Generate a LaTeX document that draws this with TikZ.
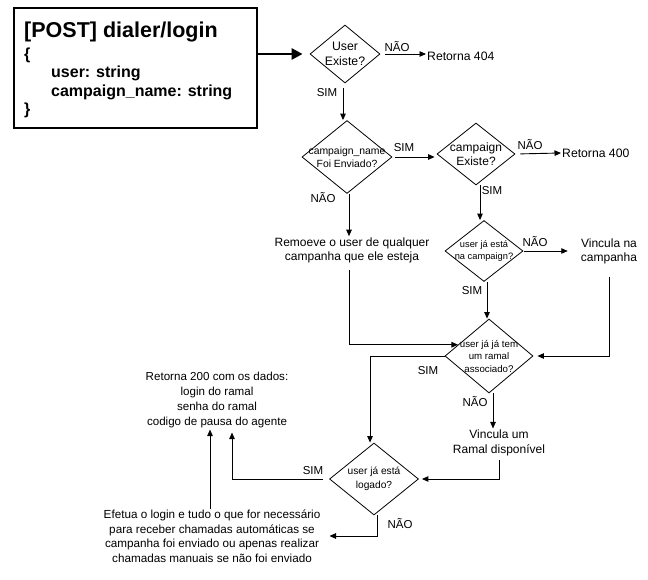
\documentclass[tikz,border=0pt]{standalone}
\usepackage{fontspec}
\setmainfont{Liberation Sans}
\usetikzlibrary{shapes.geometric,arrows.meta}
\tikzset{
  dia/.style={diamond, draw, inner sep=0pt, line width=0.8pt},
  arr/.style={-{Triangle[length=6.5pt,width=5.5pt]}, line width=0.9pt},
  txt/.style={font=\fontsize{11.5}{14.5}\selectfont, align=center, inner sep=1pt},
  lbl/.style={font=\fontsize{11.5}{13}\selectfont, inner sep=0pt},
  dt/.style 2 args={font=\fontsize{#1}{#2}\selectfont, align=center},
  hd/.style={anchor=west, inner sep=0pt, font=\bfseries\fontsize{16}{18}\selectfont}
}
\begin{document}
\begin{tikzpicture}[x=1pt,y=-1pt]
\useasboundingbox (0,0) rectangle (648,580);
% header box
\node[draw, line width=2.2pt, minimum width=243pt, minimum height=120pt, inner sep=0pt] (box) at (135.5,68) {};
\node[anchor=west, inner sep=0pt, font=\bfseries\fontsize{21.5}{24}\selectfont] (t0) at (24,32) {[POST] dialer/login};
\node[hd] (t1) at (24,55) {\{};
\node[hd] (t2) at (51,73) {user: string};
\node[hd] (t3) at (51,92) {campaign\_name: string};
\node[hd] (t4) at (24,110) {\}};
% diamonds
\node[dia, minimum width=70pt, minimum height=58pt, label={[dt={12.3}{15}]center:User\\Existe?}] (d1) at (345,54) {};
\node[dia, minimum width=90pt, minimum height=73pt, label={[dt={10.4}{13}]center:campaign\_name\\Foi Enviado?}] (d2) at (347,157) {};
\node[dia, minimum width=78pt, minimum height=62pt, label={[dt={12}{14.5}]center:campaign\\Existe?}] (d3) at (476,154) {};
\node[dia, minimum width=78pt, minimum height=61pt, label={[dt={9.3}{12.5}]center:user já está\\na campaign?}] (d4) at (484,251) {};
\node[dia, minimum width=88pt, minimum height=74pt, label={[dt={9.7}{12.5}]center:user já já tem\\um ramal\\associado?}] (d5) at (489,356) {};
\node[dia, minimum width=89pt, minimum height=72pt, label={[dt={10.2}{14}]center:user já está\\logado?}] (d6) at (374,479) {};
% texts
\node[txt, anchor=west, font=\fontsize{12.2}{14}\selectfont] (r404) at (426,56) {Retorna 404};
\node[txt, anchor=west, font=\fontsize{12.2}{14}\selectfont] (r400) at (561,153) {Retorna 400};
\node[txt, font=\fontsize{12}{14}\selectfont] (rem) at (352,250) {Remoeve o user de qualquer\\campanha que ele esteja};
\node[txt, font=\fontsize{12}{14}\selectfont] (vin) at (609,251) {Vincula na\\campanha};
\node[txt, font=\fontsize{12}{15.5}\selectfont] (vr) at (499,443) {Vincula um\\Ramal disponível};
\node[txt, font=\fontsize{11.6}{15.3}\selectfont] (ret) at (217,400) {Retorna 200 com os dados:\\login do ramal\\senha do ramal\\codigo de pausa do agente};
\node[txt, font=\fontsize{11.7}{14.5}\selectfont] (ef) at (212,536) {Efetua o login e tudo o que for necessário\\para receber chamadas automáticas se\\campanha foi enviado ou apenas realizar\\chamadas manuais se não foi enviado};
% main arrow
\draw[line width=2.8pt, -{Triangle[length=11pt,width=11pt]}] (box.east |- d1.west) -- ([xshift=-7pt]d1.west);
% connectors
\draw[arr] ([xshift=5pt]d1.east) -- (r404.west |- d1.east);
\node[lbl] (l1) at (397,47) {NÃO};
\draw[arr, shorten <=5pt] ([xshift=-2pt]d1.south) -- ([xshift=-4pt]d2.north);
\node[lbl] (l2) at (327,93) {SIM};
\draw[arr, shorten <=3pt, shorten >=2pt] (d2.east) -- (d2.east -| d3.west);
\node[lbl] (l3) at (404,148) {SIM};
\draw[arr, shorten <=5pt] (d3.east) -- (r400.west);
\node[lbl] (l4) at (530,145) {NÃO};
\draw[arr] ([xshift=4pt]d3.south) -- ([xshift=-4pt]d4.north);
\node[lbl] (l5) at (492,191) {SIM};
\draw[arr] ([xshift=2pt]d2.south) -- ([xshift=2pt]d2.south |- rem.north);
\node[lbl] (l6) at (323,198) {NÃO};
\draw[arr, shorten >=12pt] ([xshift=1pt]d4.east) -- (vin.west);
\node[lbl] (l7) at (535,242) {NÃO};
\draw[arr] ([xshift=3pt]d4.south) -- ([xshift=-2pt]d5.north);
\node[lbl] (l8) at (472,291) {SIM};
\draw[arr, shorten <=6pt] ([xshift=-3pt]rem.south) |- (d5.160);
\draw[arr, shorten <=12pt, shorten >=4pt] (vin.south) |- (d5.east);
\draw[arr] (d5.west) -| ([xshift=-4pt]d6.north);
\node[lbl] (l9) at (428,371) {SIM};
\draw[arr] ([xshift=4pt]d5.south) -- ([xshift=4pt]d5.south |- vr.north);
\node[lbl] (l10) at (475,402) {NÃO};
\draw[arr, shorten <=2pt, shorten >=3pt] (vr.south) |- (d6.east);
\draw[arr, shorten <=6pt, shorten >=3pt] (d6.west) -| ([xshift=15pt]ret.south);
\node[lbl] (l11) at (313,471) {SIM};
\draw[arr, shorten >=8pt] ([xshift=3pt]d6.south) |- (ef.east);
\node[lbl] (l12) at (400,524) {NÃO};
\draw[arr] ([xshift=-2pt]ef.north) -- ([xshift=-2pt]ef.north |- ret.south);
\end{tikzpicture}
\end{document}
